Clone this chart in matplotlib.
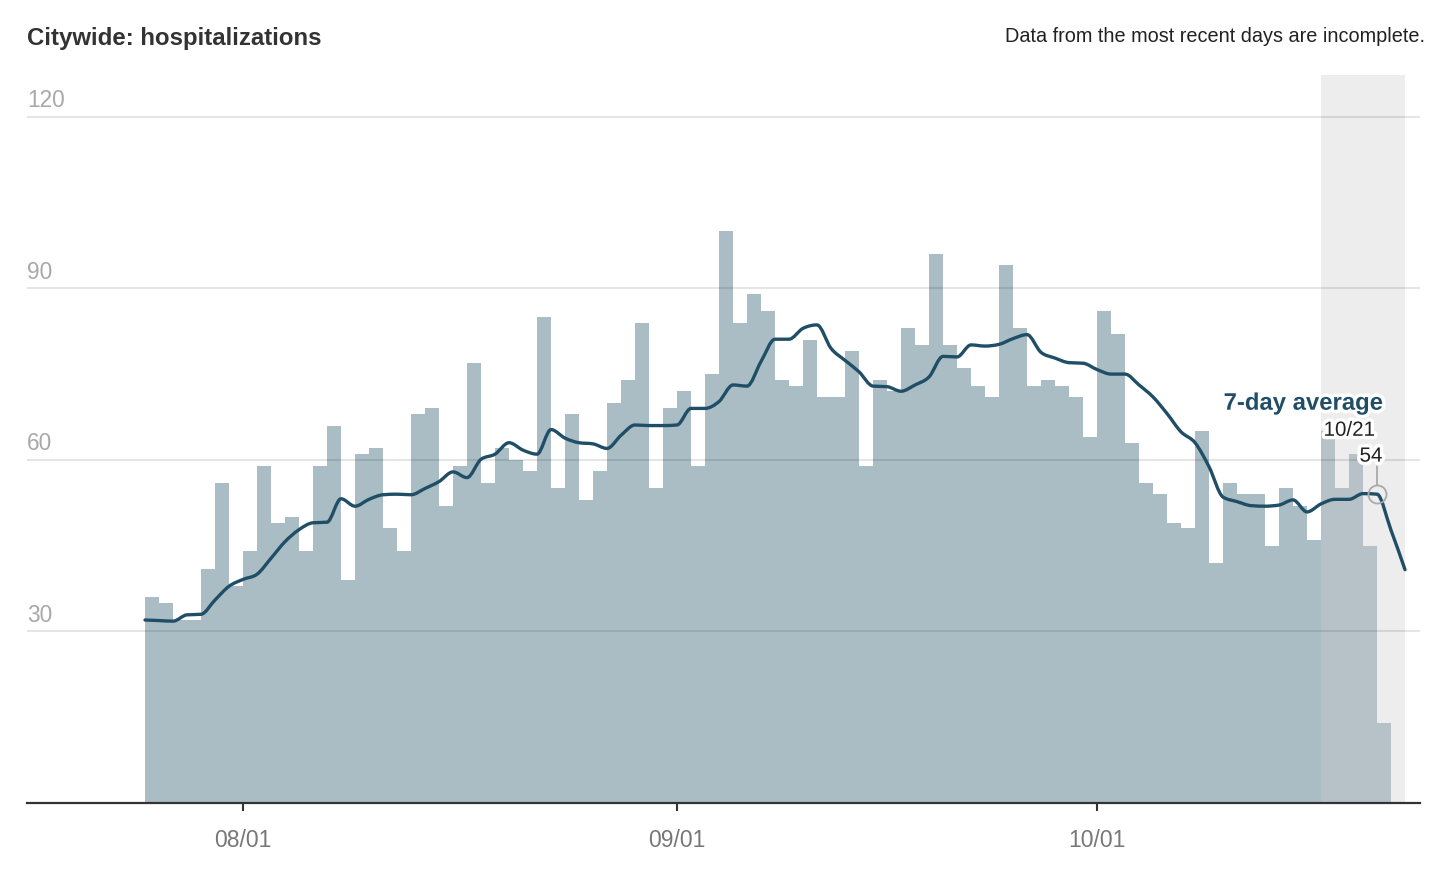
import numpy as np
import pandas as pd
import matplotlib
matplotlib.use("Agg")
import matplotlib.pyplot as plt
import matplotlib.dates as mdates
import matplotlib.patheffects as pe
from matplotlib.path import Path
from matplotlib.patches import PathPatch

plt.rcParams['font.family'] = ['Liberation Sans', 'DejaVu Sans']

# daily hospitalizations, one bar per day from 07/25
daily = [36, 35, 32, 32, 41, 56, 38, 44, 59, 49, 50, 44, 59, 66, 39, 61, 62, 48,
         44, 68, 69, 52, 59, 77, 56, 62, 60, 58, 85, 55, 68, 53, 58, 70, 74, 84,
         55, 69, 72, 59, 75, 100, 84, 89, 86, 74, 73, 81, 71, 71, 79, 59, 74, 72,
         83, 80, 96, 80, 76, 73, 71, 94, 83, 73, 74, 73, 71, 64, 86, 82, 63, 56,
         54, 49, 48, 65, 42, 56, 54, 54, 45, 55, 52, 46, 65, 55, 61, 45, 14]

# 7-day average, one point per day from 07/25
avg7 = [32.0, 31.9, 31.8, 32.9, 33.0, 35.5, 37.9, 39.1, 40.0, 42.8, 45.7, 47.8,
        49.0, 49.1, 53.2, 51.9, 53.1, 53.9, 54.0, 53.9, 55.0, 56.2, 57.9, 56.9,
        60.1, 61.0, 63.0, 61.7, 61.0, 65.3, 63.8, 63.0, 62.8, 62.0, 64.3, 66.1,
        66.0, 66.0, 66.1, 69.0, 69.0, 70.2, 73.1, 72.9, 77.2, 81.1, 81.1, 83.0,
        83.6, 79.5, 77.4, 75.4, 72.9, 72.8, 72.0, 73.1, 74.5, 78.1, 78.0, 80.1,
        79.9, 80.2, 81.2, 81.9, 78.8, 77.8, 77.0, 76.9, 75.8, 75.0, 75.0, 73.1,
        71.0, 68.1, 64.9, 63.0, 58.8, 53.5, 52.7, 52.0, 51.9, 52.1, 53.0, 50.9,
        52.3, 53.1, 53.1, 54.1, 54.0, 47.7, 40.8]

start = pd.Timestamp('2021-07-25')
bar_x = mdates.date2num(pd.date_range(start, periods=len(daily)).to_pydatetime())
avg_x = mdates.date2num(pd.date_range(start, periods=len(avg7)).to_pydatetime())

incomplete = ('2021-10-17', '2021-10-23')
hl_day, hl_val = '2021-10-21', 54
yticks = [30, 60, 90, 120]
xticks = ['2021-08-01', '2021-09-01', '2021-10-01']

bar_color = '#aabdc5'
line_color = '#1f4e66'


def monotone_path(x, y):
    # cubic bezier path through the points, like d3.curveMonotoneX
    x = np.asarray(x, float)
    y = np.asarray(y, float)
    h = np.diff(x)
    s = np.diff(y) / h
    t = np.zeros_like(y)
    for i in range(1, len(y) - 1):
        p = (s[i - 1] * h[i] + s[i] * h[i - 1]) / (h[i - 1] + h[i])
        t[i] = (np.sign(s[i - 1]) + np.sign(s[i])) * min(abs(s[i - 1]), abs(s[i]), 0.5 * abs(p))
    t[0] = (3 * s[0] - t[1]) / 2
    t[-1] = (3 * s[-1] - t[-2]) / 2
    verts = [(x[0], y[0])]
    codes = [Path.MOVETO]
    for i in range(len(x) - 1):
        d = h[i] / 3
        verts += [(x[i] + d, y[i] + d * t[i]),
                  (x[i + 1] - d, y[i + 1] - d * t[i + 1]),
                  (x[i + 1], y[i + 1])]
        codes += [Path.CURVE4] * 3
    return Path(verts, codes)


fig = plt.figure(figsize=(14.52, 8.86), dpi=100)
ax = fig.add_axes([27 / 1452, 1 - 803 / 886, (1420 - 27) / 1452, (803 - 75) / 886])

ax.bar(bar_x, daily, width=1.0, align='edge', color=bar_color, lw=0, zorder=1)

s0, s1 = mdates.date2num(pd.to_datetime(list(incomplete)).to_pydatetime())
ax.axvspan(s0, s1, color='#cdcdcd', alpha=0.35, lw=0, zorder=1.5)

for y in yticks:
    ax.axhline(y, color='black', alpha=0.1, lw=1.5, zorder=2)
    ax.annotate(str(y), xy=(0, y), xycoords=('axes fraction', 'data'),
                xytext=(0, 7), textcoords='offset points', ha='left',
                va='baseline', fontsize=16.3, color='#a8a8a8')

ax.add_patch(PathPatch(monotone_path(avg_x, avg7), fc='none', ec=line_color,
                       lw=2.4, capstyle='round', joinstyle='round', zorder=3))

hx = mdates.date2num(pd.Timestamp(hl_day).to_pydatetime())
ax.plot(hx, hl_val, 'o', ms=13, mfc='none', mec='#a9a9a9', mew=1.3, zorder=4)
ax.annotate('', xy=(hx, hl_val), xytext=(0, 20), textcoords='offset points',
            arrowprops=dict(arrowstyle='-', color='#a9a9a9', lw=1.3,
                            shrinkA=0, shrinkB=6.5))

halo = [pe.withStroke(linewidth=5, foreground='white')]
ax.annotate(str(hl_val), xy=(hx, hl_val), xytext=(-4.3, 27.4),
            textcoords='offset points', ha='center', va='center',
            fontsize=14.8, color='#222222', path_effects=halo, zorder=5)
ax.annotate(pd.Timestamp(hl_day).strftime('%m/%d'), xy=(hx, hl_val),
            xytext=(-20, 46), textcoords='offset points', ha='center',
            va='center', fontsize=14.8, color='#222222', path_effects=halo,
            zorder=5)
ax.annotate('7-day average', xy=(hx, hl_val), xytext=(4.3, 65.5),
            textcoords='offset points', ha='right', va='center',
            fontsize=17.2, fontweight='bold', color=line_color,
            path_effects=halo, zorder=5)

ax.set_ylim(0, 127.3)
ax.set_xlim(bar_x[0] - 8.43, bar_x[0] + 91.07)
ax.set_yticks([])
ax.set_xticks(mdates.date2num(pd.to_datetime(xticks).to_pydatetime()))
ax.xaxis.set_major_formatter(mdates.DateFormatter('%m/%d'))
ax.tick_params(axis='x', length=6, width=1.5, color='#333333', pad=13,
               labelsize=16.5, labelcolor='#777777')
for side in ['top', 'right', 'left']:
    ax.spines[side].set_visible(False)
ax.spines['bottom'].set_color('#333333')
ax.spines['bottom'].set_linewidth(1.6)
ax.spines['bottom'].set_zorder(6)

fig.text(27 / 1452, 1 - 39 / 886, 'Citywide: hospitalizations', ha='left',
         va='center', fontsize=17.3, fontweight='bold', color='#333333')
fig.text(1425 / 1452, 1 - 36 / 886, 'Data from the most recent days are incomplete.',
         ha='right', va='center', fontsize=14.3, color='#222222')

fig.savefig('out.png', dpi=100)
